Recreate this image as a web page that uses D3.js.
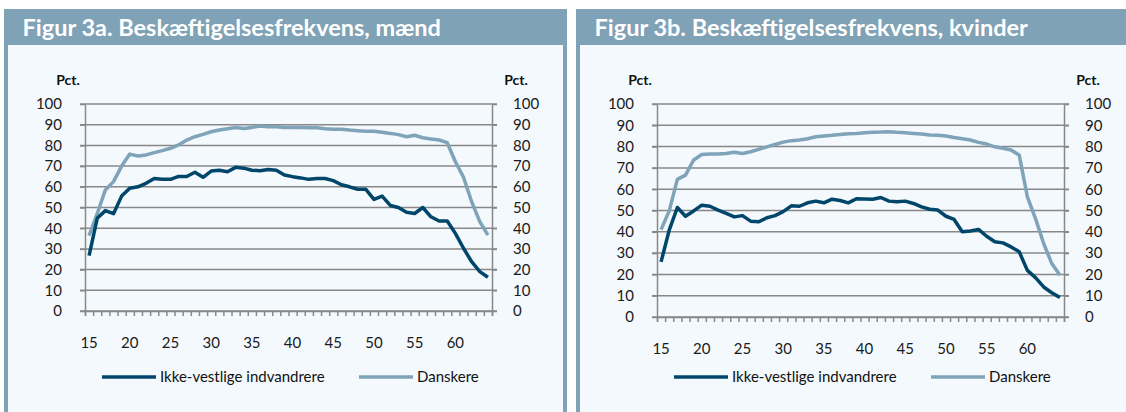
<!DOCTYPE html>
<html>
<head>
<meta charset="utf-8">
<script src="https://cdn.jsdelivr.net/npm/d3@7"></script>
<style>
  body { margin: 0; background: #fff; }
  svg { display: block; font-family: Lato, 'Open Sans', sans-serif; }
</style>
</head>
<body>
<svg id="chart" width="1126" height="412"></svg>
<script>
// Data (employment rate in pct., ages 15-64)
const ages = d3.range(15, 65);
const xTickLabels = [15, 20, 25, 30, 35, 40, 45, 50, 55, 60];
const yTicks = [0, 10, 20, 30, 40, 50, 60, 70, 80, 90, 100];
const seriesNames = ['Ikke-vestlige indvandrere', 'Danskere'];
const titles = ['Figur 3a. Beskæftigelsesfrekvens, mænd', 'Figur 3b. Beskæftigelsesfrekvens, kvinder'];

const menImmigrants = [
  26.7, 44.8, 48.5, 47.0, 55.5, 59.3, 60.0, 61.7, 64.0, 63.6,
  63.6, 65.0, 65.0, 67.0, 64.6, 67.6, 68.0, 67.3, 69.4, 69.0,
  68.0, 67.8, 68.4, 68.0, 65.7, 64.9, 64.3, 63.6, 64.0, 64.0,
  63.0, 61.0, 60.0, 58.8, 58.8, 53.9, 55.5, 51.0, 50.0, 47.7,
  47.1, 50.0, 45.5, 43.5, 43.5, 37.5, 30.3, 23.8, 19.0, 16.3
];
const menDanes = [
  36.4, 47.0, 58.5, 62.5, 70.0, 75.8, 74.9, 75.4, 76.5, 77.5,
  78.6, 80.2, 82.6, 84.2, 85.3, 86.6, 87.4, 88.0, 88.6, 88.2,
  88.7, 89.4, 89.0, 89.0, 88.7, 88.7, 88.7, 88.5, 88.5, 88.0,
  87.8, 87.8, 87.4, 87.1, 86.8, 86.8, 86.3, 85.8, 85.2, 84.2,
  84.9, 83.7, 83.1, 82.6, 81.3, 72.1, 64.6, 52.8, 43.2, 36.7
];
const womenImmigrants = [
  25.9, 40.8, 51.4, 47.3, 49.8, 52.5, 52.0, 50.2, 48.6, 47.0,
  47.6, 45.0, 44.7, 46.6, 47.6, 49.5, 52.2, 52.0, 53.6, 54.4,
  53.6, 55.3, 54.7, 53.6, 55.5, 55.4, 55.3, 56.1, 54.4, 54.1,
  54.4, 53.3, 51.7, 50.6, 50.2, 47.3, 45.8, 40.0, 40.4, 41.1,
  37.9, 35.3, 34.8, 32.9, 30.6, 21.9, 18.5, 14.1, 11.4, 9.1
];
const womenDanes = [
  41.0, 49.8, 64.6, 66.6, 73.7, 76.3, 76.5, 76.5, 76.8, 77.3,
  76.8, 77.6, 78.7, 79.9, 81.0, 82.1, 82.8, 83.1, 83.7, 84.6,
  85.0, 85.3, 85.7, 86.0, 86.2, 86.5, 86.7, 86.8, 87.0, 86.7,
  86.5, 86.2, 85.9, 85.4, 85.3, 85.0, 84.3, 83.7, 83.1, 82.0,
  81.2, 79.9, 79.2, 78.4, 76.0, 56.4, 46.2, 34.5, 25.1, 19.6
];

// Styling
const darkBlue = '#00466b';
const lightBlue = '#7fa3b8';
const headerColor = '#7fa2b7';
const panelBg = '#f4f9fd';
const gridColor = '#888888';

const svg = d3.select('#chart');

const panels = [
  { x: 4, title: titles[0], series: [menImmigrants, menDanes], plotBottom: 311 },
  { x: 576, title: titles[1], series: [womenImmigrants, womenDanes], plotBottom: 317 }
];

const plotLeft = 81;     // relative to panel
const plotWidth = 407;
const plotTop = 104;

panels.forEach(p => {
  let g = svg.append('g').attr('transform', `translate(${p.x},0)`);

  // Panel frame: background, side borders, header bar
  g.append('rect')
    .attr('x', 0).attr('y', 9)
    .attr('width', 563).attr('height', 420)
    .attr('fill', panelBg);
  g.append('rect').attr('x', 0).attr('y', 9).attr('width', 4).attr('height', 420).attr('fill', headerColor);
  g.append('rect').attr('x', 559).attr('y', 9).attr('width', 4).attr('height', 420).attr('fill', headerColor);
  g.append('rect')
    .attr('x', 0).attr('y', 9)
    .attr('width', 563).attr('height', 36)
    .attr('fill', headerColor);
  g.append('text')
    .attr('x', 18.5).attr('y', 35.5)
    .attr('fill', '#fff')
    .attr('font-size', '23.5px')
    .attr('font-weight', 'bold')
    .text(p.title);

  // Scales
  let plotHeight = p.plotBottom - plotTop;
  let xScale = d3.scaleBand().domain(ages).range([0, plotWidth]);
  let yScale = d3.scaleLinear().domain([0, 100]).range([plotHeight, 0]);

  let plot = g.append('g').attr('transform', `translate(${plotLeft},${plotTop})`);

  // Horizontal gridlines
  plot.selectAll('.grid')
    .data(yTicks)
    .enter()
    .append('line')
    .attr('x1', -5).attr('x2', plotWidth + 5)
    .attr('y1', d => yScale(d)).attr('y2', d => yScale(d))
    .attr('stroke', gridColor)
    .attr('stroke-width', 1.5);

  // Left and right y axes
  let leftAxis = plot.append('g')
    .call(d3.axisLeft(yScale).tickValues(yTicks).tickSizeInner(5).tickSizeOuter(0).tickPadding(18));
  let rightAxis = plot.append('g')
    .attr('transform', `translate(${plotWidth},0)`)
    .call(d3.axisRight(yScale).tickValues(yTicks).tickSizeInner(5).tickSizeOuter(0).tickPadding(16));

  [leftAxis, rightAxis].forEach(ax => {
    ax.select('.domain').attr('stroke', gridColor).attr('stroke-width', 1.5);
    ax.selectAll('.tick line').attr('stroke', gridColor).attr('stroke-width', 1.5);
    ax.selectAll('.tick text')
      .attr('font-family', 'Lato, sans-serif')
      .attr('font-size', '15px')
      .attr('fill', '#1a1a1a');
  });

  // X axis: tick marks between categories, labels every five years
  let boundaryScale = d3.scaleLinear().domain([0, ages.length]).range([0, plotWidth]);
  let xAxis = plot.append('g')
    .attr('transform', `translate(0,${plotHeight})`)
    .call(d3.axisBottom(boundaryScale).tickValues(d3.range(0, ages.length + 1)).tickSize(5).tickFormat(''));
  xAxis.select('.domain').attr('stroke', gridColor).attr('stroke-width', 1.5);
  xAxis.selectAll('.tick line').attr('stroke', gridColor).attr('stroke-width', 1.5);

  plot.selectAll('.xlabel')
    .data(xTickLabels)
    .enter()
    .append('text')
    .attr('x', d => xScale(d) + xScale.bandwidth() / 2)
    .attr('y', plotHeight + 37)
    .attr('text-anchor', 'middle')
    .attr('font-size', '15px')
    .attr('fill', '#1a1a1a')
    .text(d => d);

  // "Pct." unit labels
  g.append('text')
    .attr('x', 64).attr('y', 85)
    .attr('text-anchor', 'middle')
    .attr('font-size', '14px').attr('font-weight', 'bold')
    .attr('fill', '#111')
    .text('Pct.');
  g.append('text')
    .attr('x', 512).attr('y', 85)
    .attr('text-anchor', 'middle')
    .attr('font-size', '14px').attr('font-weight', 'bold')
    .attr('fill', '#111')
    .text('Pct.');

  // Lines
  let line = d3.line()
    .x((d, i) => xScale(ages[i]) + xScale.bandwidth() / 2)
    .y(d => yScale(d));

  [lightBlue, darkBlue].forEach((c, k) => {
    let idx = k === 0 ? 1 : 0;
    plot.append('path')
      .datum(p.series[idx])
      .attr('d', line)
      .attr('fill', 'none')
      .attr('stroke', c)
      .attr('stroke-width', 3.5)
      .attr('stroke-linejoin', 'round');
  });

  // Legend
  let legendItems = [
    { name: seriesNames[0], color: darkBlue, x: 98 },
    { name: seriesNames[1], color: lightBlue, x: 355 }
  ];
  legendItems.forEach(it => {
    g.append('line')
      .attr('x1', it.x).attr('x2', it.x + 54)
      .attr('y1', 377).attr('y2', 377)
      .attr('stroke', it.color)
      .attr('stroke-width', 3.5);
    g.append('text')
      .attr('x', it.x + 58).attr('y', 382)
      .attr('font-size', '15px')
      .attr('fill', '#111')
      .text(it.name);
  });
});
</script>
</body>
</html>
